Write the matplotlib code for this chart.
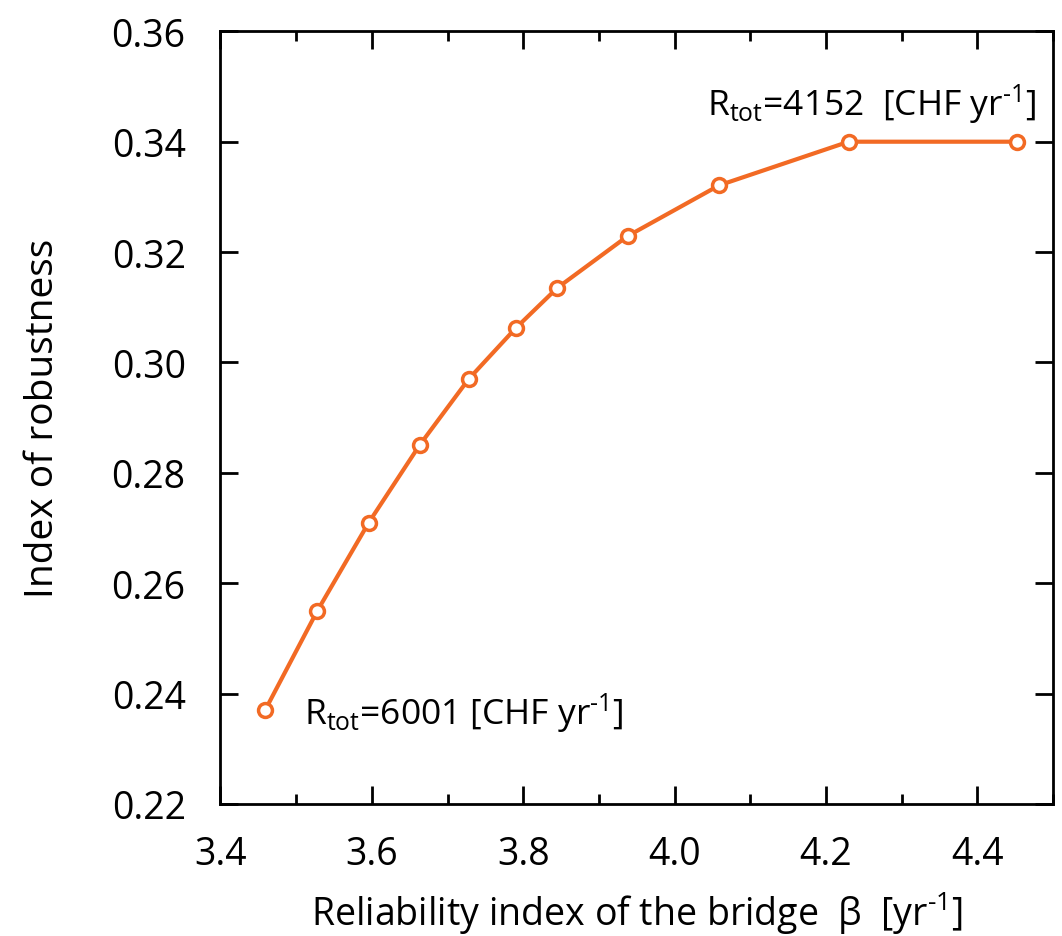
import matplotlib
matplotlib.use("Agg")
import matplotlib.pyplot as plt
from matplotlib.ticker import MultipleLocator

plt.rcParams['font.family'] = ['Open Sans', 'DejaVu Sans']
plt.rcParams['mathtext.fontset'] = 'custom'
plt.rcParams['mathtext.rm'] = 'Open Sans'
plt.rcParams['mathtext.it'] = 'Open Sans'
plt.rcParams['mathtext.default'] = 'regular'

beta = [3.459, 3.528, 3.596, 3.663, 3.728, 3.790, 3.845, 3.938, 4.059, 4.230, 4.452]
robustness = [0.237, 0.255, 0.271, 0.285, 0.297, 0.3062, 0.3135, 0.3229, 0.3321, 0.340, 0.340]
xticks = [3.4, 3.6, 3.8, 4.0, 4.2, 4.4]
yticks = [0.22, 0.24, 0.26, 0.28, 0.30, 0.32, 0.34, 0.36]
label_low = r'R$_{tot}$=6001 [CHF yr$^{\text{-1}}$]'
label_high = r'R$_{tot}$=4152  [CHF yr$^{\text{-1}}$]'

fig = plt.figure(figsize=(10.62, 9.37), dpi=100)
ax = fig.add_axes([0.2076, 0.1409, 0.9915 - 0.2076, 0.9655 - 0.1409])

color = '#F26A24'
ax.plot(beta, robustness, '-', color=color, lw=3.0, marker='o', ms=10,
        mfc='white', mec=color, mew=2.5, zorder=3, clip_on=False)

ax.set_xlim(3.4, 4.5)
ax.set_ylim(0.22, 0.36)
ax.set_xticks(xticks)
ax.set_xticklabels([f'{v:.1f}' for v in xticks])
ax.xaxis.set_minor_locator(MultipleLocator(0.1))
ax.set_yticks(yticks)
ax.set_yticklabels([f'{v:.2f}' for v in yticks])

for s in ax.spines.values():
    s.set_linewidth(2.0)

ax.tick_params(axis='both', which='major', direction='in', length=13, width=2.0,
               labelsize=27, top=True, right=True)
ax.tick_params(axis='x', which='minor', direction='in', length=7, width=2.0, top=True)
ax.tick_params(axis='x', which='major', pad=22)
ax.tick_params(axis='y', which='major', pad=25)

ax.set_xlabel(r'Reliability index of the bridge  β  [yr$^{\text{-1}}$]', fontsize=27, labelpad=12)
ax.set_ylabel('Index of robustness', fontsize=28, labelpad=36)

ax.text(3.511, 0.2345, label_low, fontsize=25.5, va='baseline', ha='left')
ax.text(4.043, 0.345, label_high, fontsize=25.5, va='baseline', ha='left')

fig.savefig('out.png', dpi=100)
